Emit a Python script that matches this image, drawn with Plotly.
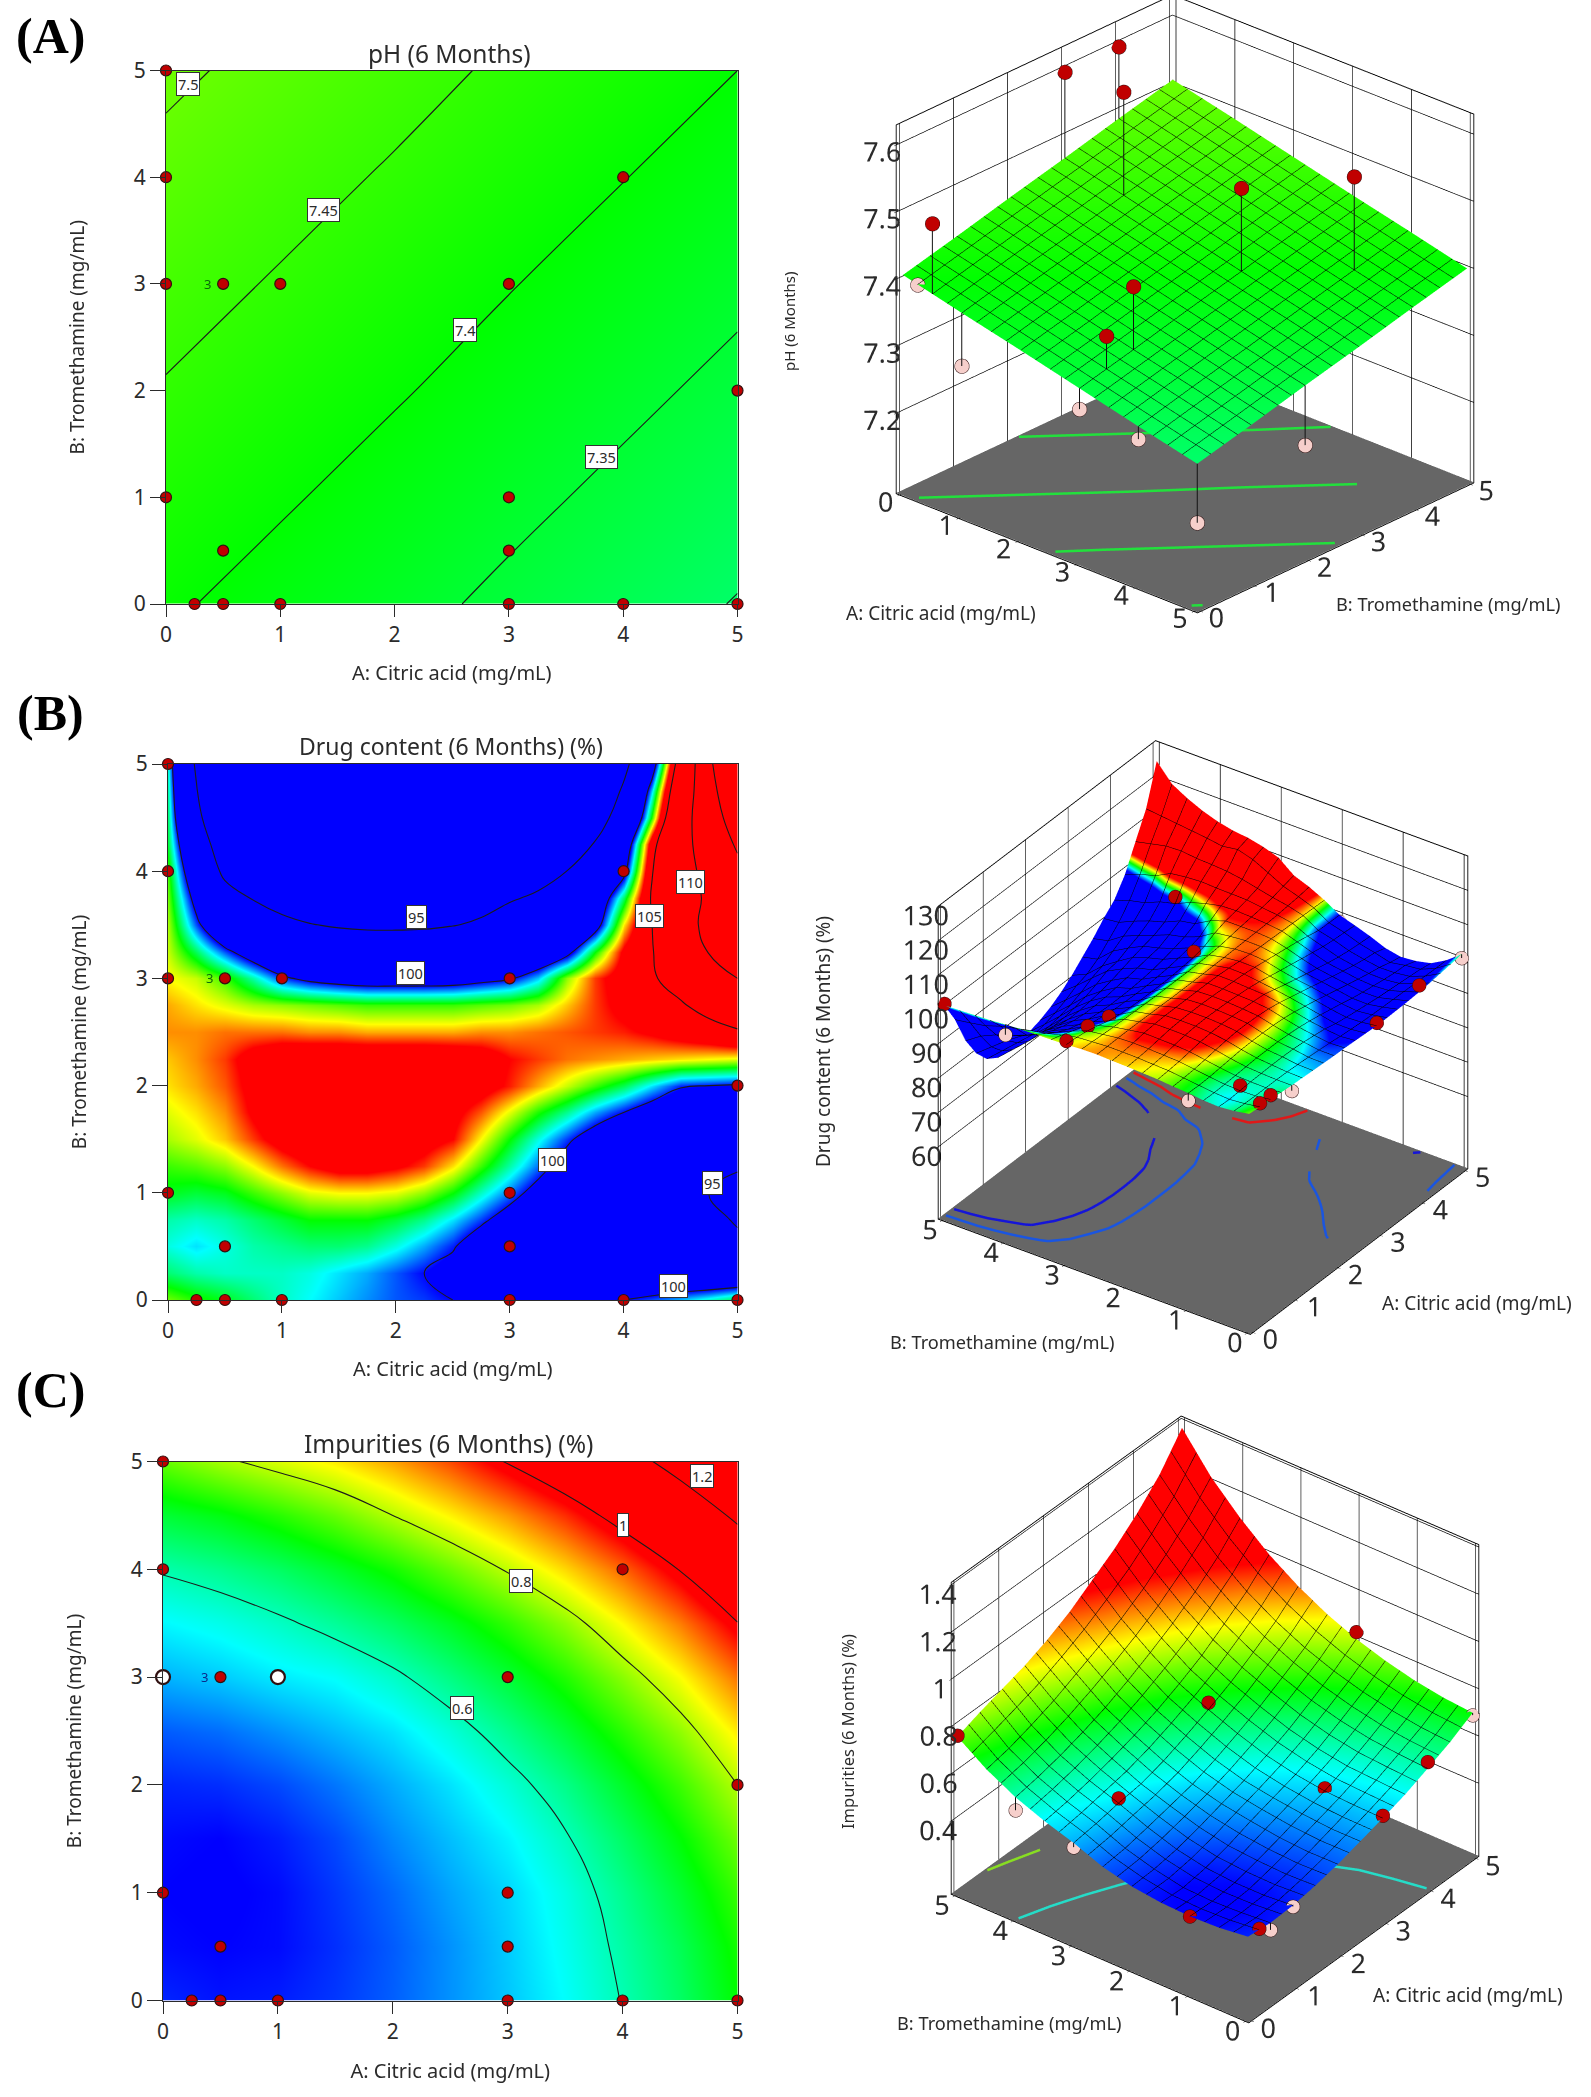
import numpy as np
import plotly.graph_objects as go

W, H = 1591, 2097
FONT = "Noto Sans"
INK = "#2b2b2b"

# Grid axes
A_COARSE = [0, 1, 2, 3, 4, 5]
B_COARSE = [0, 1, 2, 3, 4, 5]
A_MID = [0, .5, 1, 1.5, 2, 2.5, 3, 3.5, 4, 4.5, 5]
B_MID = [0, .5, 1, 1.5, 2, 2.5, 3, 3.5, 4, 4.5, 5]
A_FINE = [i * .25 for i in range(21)]
B_FINE = [i * .25 for i in range(21)]

# pH (6 Months): rows B = 0..5, columns A = 0..5
PH = [
    [7.406, 7.384, 7.363, 7.341, 7.319, 7.298],
    [7.426, 7.405, 7.383, 7.361, 7.340, 7.318],
    [7.447, 7.425, 7.404, 7.382, 7.360, 7.339],
    [7.467, 7.446, 7.424, 7.402, 7.381, 7.359],
    [7.488, 7.466, 7.445, 7.423, 7.401, 7.380],
    [7.508, 7.487, 7.465, 7.443, 7.422, 7.400],
]

# Drug content (6 Months): rows B = 0..5 by .25, columns A = 0..5 by .25
DRUG = [
    [102.2, 101.9, 101.7, 101.4, 101.1, 100.9, 100.7, 100.5, 100.3, 100.2, 100.0, 99.8, 99.6, 99.6, 99.7, 99.8, 100.0, 100.3, 100.7, 101.1, 101.6],
    [101.4, 101.2, 101.1, 101.1, 101.1, 101.0, 100.8, 100.6, 100.3, 100.0, 99.6, 99.3, 99.0, 98.8, 98.7, 98.6, 98.5, 98.4, 98.3, 98.2, 98.2],
    [101.0, 100.8, 101.0, 101.2, 101.3, 101.4, 101.4, 101.3, 101.0, 100.6, 100.1, 99.3, 98.8, 98.3, 97.9, 97.5, 97.2, 96.9, 96.6, 96.3, 95.7],
    [101.2, 101.1, 101.2, 101.4, 101.6, 101.8, 101.8, 101.8, 101.6, 101.3, 100.8, 100.2, 99.5, 98.8, 98.0, 97.4, 96.9, 96.4, 96.0, 95.8, 94.7],
    [101.7, 101.6, 101.7, 102.0, 102.3, 102.6, 102.7, 102.7, 102.6, 102.3, 101.8, 101.1, 100.4, 99.6, 98.8, 98.0, 97.2, 96.5, 95.9, 95.0, 94.3],
    [102.0, 102.1, 102.3, 102.7, 103.2, 103.6, 103.9, 103.9, 103.7, 103.4, 102.8, 102.0, 101.2, 100.4, 99.5, 98.7, 97.9, 97.2, 96.6, 96.2, 95.2],
    [102.4, 102.6, 102.9, 103.4, 103.9, 104.2, 104.4, 104.3, 104.1, 103.9, 103.6, 102.7, 101.8, 101.0, 100.2, 99.4, 98.6, 98.0, 97.5, 97.2, 97.0],
    [102.6, 102.8, 103.1, 103.7, 104.2, 104.5, 104.6, 104.5, 104.4, 104.1, 103.8, 103.3, 102.6, 101.9, 101.3, 100.6, 100.0, 99.4, 99.0, 98.8, 98.5],
    [102.8, 103.0, 103.3, 103.8, 104.3, 104.5, 104.6, 104.6, 104.5, 104.3, 104.1, 103.9, 103.5, 103.0, 102.5, 102.0, 101.5, 100.8, 100.1, 100.0, 99.9],
    [102.9, 103.1, 103.4, 103.9, 104.2, 104.3, 104.3, 104.3, 104.3, 104.3, 104.2, 104.0, 103.6, 103.4, 103.2, 103.1, 103.0, 102.9, 102.8, 102.7, 102.6],
    [103.1, 103.1, 103.2, 103.2, 103.2, 103.1, 103.1, 103.0, 103.0, 103.0, 103.0, 103.1, 103.1, 103.2, 103.3, 103.4, 103.5, 103.7, 104.0, 104.3, 104.8],
    [103.0, 102.8, 102.6, 102.4, 102.3, 102.2, 102.1, 102.0, 102.0, 102.0, 102.0, 102.1, 102.2, 102.4, 102.9, 103.4, 103.8, 104.2, 104.8, 105.7, 106.5],
    [102.7, 102.5, 102.0, 101.2, 100.2, 99.7, 99.4, 99.2, 99.2, 99.2, 99.3, 99.6, 99.9, 100.7, 102.3, 103.4, 104.0, 104.8, 105.8, 108.0, 110.0],
    [102.5, 101.5, 100.3, 99.2, 98.3, 97.7, 97.3, 97.1, 97.0, 97.0, 97.2, 97.5, 98.0, 98.6, 99.5, 101.8, 103.8, 104.9, 106.8, 110.2, 111.5],
    [102.4, 100.3, 98.3, 96.8, 95.8, 95.1, 94.7, 94.5, 94.5, 94.6, 94.9, 95.3, 96.0, 96.8, 97.8, 99.3, 102.8, 105.0, 107.5, 111.5, 112.5],
    [102.2, 99.5, 96.5, 94.8, 93.7, 93.0, 92.6, 92.6, 92.8, 93.2, 93.7, 94.2, 94.8, 95.3, 96.8, 98.5, 101.5, 105.2, 107.8, 110.8, 113.0],
    [102.0, 98.5, 94.2, 92.0, 91.0, 90.0, 89.5, 89.6, 90.0, 90.5, 91.3, 92.3, 93.3, 94.2, 95.0, 96.5, 99.5, 104.9, 108.0, 111.5, 114.0],
    [101.6, 97.5, 92.5, 90.0, 88.0, 86.5, 85.8, 86.0, 86.5, 87.3, 88.5, 90.0, 90.5, 92.0, 93.3, 95.2, 98.4, 104.3, 108.5, 112.0, 115.5],
    [101.4, 96.0, 91.0, 87.0, 84.0, 82.0, 81.5, 81.7, 82.3, 83.2, 84.5, 86.3, 87.5, 89.5, 91.5, 93.5, 96.5, 102.0, 108.3, 112.5, 117.5],
    [101.2, 95.2, 89.0, 83.5, 80.0, 78.0, 77.5, 77.7, 78.3, 79.3, 80.7, 82.5, 83.5, 85.5, 88.5, 91.5, 95.5, 100.8, 107.3, 113.0, 120.0],
    [101.0, 94.5, 86.0, 80.0, 76.0, 74.0, 73.5, 73.8, 74.5, 75.5, 77.0, 79.0, 81.5, 84.5, 87.5, 91.0, 94.0, 99.0, 106.3, 113.5, 125.0],
]

# Impurities (6 Months): rows B = 0..5 by .5, columns A = 0..5 by .5
IMPUR = [
    [.440, .430, .435, .450, .472, .500, .529, .561, .602, .645, .700],
    [.425, .420, .425, .445, .470, .500, .532, .568, .610, .654, .711],
    [.420, .415, .425, .450, .478, .510, .538, .575, .622, .672, .731],
    [.425, .420, .435, .460, .495, .525, .555, .595, .645, .698, .761],
    [.440, .445, .460, .485, .515, .545, .582, .625, .678, .733, .800],
    [.470, .480, .500, .522, .545, .580, .622, .668, .722, .779, .851],
    [.518, .531, .549, .562, .590, .628, .670, .717, .775, .838, .917],
    [.557, .571, .591, .616, .646, .682, .726, .777, .842, .911, .998],
    [.605, .622, .645, .675, .710, .755, .805, .860, .925, 1.003, 1.100],
    [.670, .690, .720, .755, .800, .845, .895, .955, 1.030, 1.115, 1.220],
    [.755, .790, .820, .850, .890, .940, 1.005, 1.070, 1.150, 1.245, 1.375],
]

# Design points
PT_A = [0, 0, 0, .5, 1, 3, 4, 5, 3, 3, .5, 0, .25, .5, 1, 3, 4, 5]
PT_B = [5, 4, 3, 3, 3, 3, 4, 2, 1, .5, .5, 1, 0, 0, 0, 0, 0, 0]
PT_PH = [7.49, 7.595, 7.595, 7.42, 7.60, 7.526, 7.54, 7.25, 7.455, 7.40, 7.39, 7.40, 7.40, 7.50, 7.305, 7.31, 7.30, 7.21]
PT_DRUG = [101.5, 99, 103.8, 103.4, 101.5, 101.5, 101.5, 98, 98, 96.5, 102.5, 99.5, 103, 103, 99.5, 100.5, 102, 100.5]
PT_IMP = [.76, .55, .50, .47, .57, .70, .90, .83, .55, .51, .40, .42, .44, .40, .43, .54, .63, .69]

# Contour settings
RAINBOW = [[0, "#0000ff"], [.25, "#00ffff"], [.5, "#00ff00"], [.75, "#ffff00"], [1, "#ff0000"]]
AXIS_TICKS = [0, 1, 2, 3, 4, 5]
PH_LEVELS = [7.3, 7.35, 7.4, 7.45, 7.5]
DRUG_LEVELS = [95, 100, 105, 110, 115]
IMP_LEVELS = [.6, .8, 1.0, 1.2]
PH_LEVEL_COLORS = ["#22e03c"] * 5
DRUG_LEVEL_COLORS = ["#1515d8", "#1a55e0", "#e01818", "#e01818", "#e01818"]
IMP_LEVEL_COLORS = ["#25dcc8", "#88dd22", "#f08a10", "#f03010"]
PH_LABELS = [("7.5", .19, 4.87), ("7.45", 1.375, 3.69), ("7.4", 2.62, 2.57), ("7.35", 3.81, 1.38)]
DRUG_LABELS = [("95", 2.18, 3.57), ("100", 2.13, 3.05), ("110", 4.59, 3.9), ("105", 4.23, 3.58),
               ("100", 3.38, 1.31), ("95", 4.78, 1.09), ("100", 4.44, .135)]
IMP_LABELS = [("1.2", 4.69, 4.87), ("1", 4.0, 4.41), ("0.8", 3.12, 3.89), ("0.6", 2.6, 2.71)]
PH_TICKS = [7.2, 7.3, 7.4, 7.5, 7.6]
DRUG_TICKS = [60, 70, 80, 90, 100, 110, 120, 130]
IMP_TICKS = [.4, .6, .8, 1, 1.2, 1.4]
X_TITLE = "A: Citric acid (mg/mL)"
Y_TITLE = "B: Tromethamine (mg/mL)"
BOX_RANGE = [-.06, 5.06]


def surface_at(xs, ys, Z, a, b):
    xs, ys, Z = np.asarray(xs, float), np.asarray(ys, float), np.asarray(Z, float)
    col = np.array([np.interp(a, xs, row) for row in Z])
    return float(np.interp(b, ys, col))


def contour_paths(xs, ys, Z, level):
    """Marching squares: returns x, y lists separated by None."""
    Z = np.asarray(Z, float)
    X, Y = [], []
    for j in range(len(ys) - 1):
        for i in range(len(xs) - 1):
            corners = [(xs[i], ys[j], Z[j, i]), (xs[i + 1], ys[j], Z[j, i + 1]),
                       (xs[i + 1], ys[j + 1], Z[j + 1, i + 1]), (xs[i], ys[j + 1], Z[j + 1, i])]
            pts = []
            for k in range(4):
                x0, y0, z0 = corners[k]
                x1, y1, z1 = corners[(k + 1) % 4]
                if (z0 - level) * (z1 - level) < 0:
                    t = (level - z0) / (z1 - z0)
                    pts.append((x0 + t * (x1 - x0), y0 + t * (y1 - y0)))
            for m in range(0, len(pts) - 1, 2):
                X += [pts[m][0], pts[m + 1][0], None]
                Y += [pts[m][1], pts[m + 1][1], None]
    return X, Y


fig = go.Figure()


def px_x(x):
    return x / W


def px_y(y):
    return 1 - y / H


def note(text, x, y, size, **kw):
    fig.add_annotation(text=text, x=px_x(x), y=px_y(y), xref="paper", yref="paper", showarrow=False,
                       font=dict(family=kw.pop("family", FONT), size=size, color=kw.pop("color", INK)),
                       xanchor="center", yanchor="middle", **kw)


def contour_panel(idx, xs, ys, Z, cmin, cmax, levels, labels, box, title, title_xy, title_size, tag, tag_xy,
                  white=(), three_color="#0a6a0a", x_standoff=20):
    sfx = "" if idx == 1 else str(idx)
    x0, x1, y0, y1 = box
    fig.update_layout({
        f"xaxis{sfx}": dict(domain=[px_x(x0), px_x(x1)], range=[0, 5], tickvals=AXIS_TICKS, ticks="outside",
                            ticklen=12, tickcolor=INK, linecolor=INK, showline=True, mirror=True, showgrid=False,
                            zeroline=False, tickfont=dict(family=FONT, size=21, color=INK), anchor=f"y{sfx}",
                            title=dict(text=X_TITLE, font=dict(family=FONT, size=20, color=INK), standoff=x_standoff)),
        f"yaxis{sfx}": dict(domain=[px_y(y1), px_y(y0)], range=[0, 5], tickvals=AXIS_TICKS, ticks="outside",
                            ticklen=15, tickcolor=INK, linecolor=INK, showline=True, mirror=True, showgrid=False,
                            zeroline=False, tickfont=dict(family=FONT, size=21, color=INK), anchor=f"x{sfx}",
                            title=dict(text=Y_TITLE, font=dict(family=FONT, size=19, color=INK), standoff=44)),
    })
    xa, ya = f"x{sfx}", f"y{sfx}"
    fig.add_trace(go.Contour(x=xs, y=ys, z=Z, zauto=False, zmin=cmin, zmax=cmax, colorscale=RAINBOW,
                             showscale=False, hoverinfo="skip", xaxis=xa, yaxis=ya,
                             autocontour=False,
                             contours=dict(coloring="heatmap", start=levels[0], end=levels[-1],
                                           size=levels[1] - levels[0]),
                             line=dict(color="#1c1c1c", width=1.1, smoothing=1.3)))
    colors = ["#ffffff" if (a, b) in white else "#c00000" for a, b in zip(PT_A, PT_B)]
    sizes = [14 if (a, b) in white else 11 for a, b in zip(PT_A, PT_B)]
    widths = [2.2 if (a, b) in white else 1.2 for a, b in zip(PT_A, PT_B)]
    fig.add_trace(go.Scatter(x=PT_A, y=PT_B, mode="markers", cliponaxis=False, xaxis=xa, yaxis=ya, hoverinfo="skip",
                             marker=dict(size=sizes, color=colors, opacity=1,
                                         line=dict(color="#301010", width=widths))))
    for text, a, b in labels:
        fig.add_annotation(text=text, x=a, y=b, xref=xa, yref=ya, showarrow=False, bgcolor="white",
                           bordercolor="#333333", borderwidth=1, borderpad=1,
                           font=dict(family=FONT, size=14.5, color=INK))
    fig.add_annotation(text="3", x=.36, y=3, xref=xa, yref=ya, showarrow=False,
                       font=dict(family=FONT, size=13, color=three_color))
    note(title, title_xy[0], title_xy[1], title_size)
    note(tag, tag_xy[0], tag_xy[1], 50, family="Liberation Serif", color="#000000")


def surface_panel(idx, xs, ys, Z, cmin, cmax, pts_z, z_range, z_ticks, levels, level_colors, domain_px,
                  unit_eye, zratio, scale, dz, dot, tick_size=18):
    sfx = "" if idx == 1 else str(idx)
    scene = f"scene{sfx}"
    zlo, zhi = z_range
    span = zhi - zlo
    floor = zlo + .002 * span
    fig.add_trace(go.Surface(x=BOX_RANGE, y=BOX_RANGE, z=[[floor, floor], [floor, floor]], scene=scene,
                             colorscale=[[0, "#666666"], [1, "#666666"]], showscale=False, hoverinfo="skip",
                             lighting=dict(ambient=1, diffuse=0, specular=0, fresnel=0)))
    for lev, col in zip(levels, level_colors):
        X, Y = contour_paths(xs, ys, Z, lev)
        fig.add_trace(go.Scatter3d(x=X, y=Y, z=[None if v is None else floor + .004 * span for v in X], scene=scene,
                                   mode="lines", line=dict(color=col, width=5), hoverinfo="skip", showlegend=False))
    grid_line = dict(show=True, start=0, end=5, size=.25, color="#000000", width=2.5, highlight=False)
    fig.add_trace(go.Surface(x=xs, y=ys, z=Z, scene=scene, cmin=cmin, cmax=cmax, colorscale=RAINBOW, showscale=False,
                             hoverinfo="skip", lighting=dict(ambient=1, diffuse=0, specular=0, fresnel=0),
                             contours=dict(x=grid_line, y=grid_line, z=dict(highlight=False))))
    drop_x, drop_y, drop_z, col = [], [], [], []
    for a, b, v in zip(PT_A, PT_B, pts_z):
        s = surface_at(xs, ys, Z, a, b)
        drop_x += [a, a, None]
        drop_y += [b, b, None]
        drop_z += [v, s, None]
        col.append("#c00000" if v >= s else "#f6cfcb")
    fig.add_trace(go.Scatter3d(x=drop_x, y=drop_y, z=drop_z, scene=scene, mode="lines", hoverinfo="skip",
                               line=dict(color="#111111", width=2), showlegend=False))
    fig.add_trace(go.Scatter3d(x=PT_A, y=PT_B, z=pts_z, scene=scene, mode="markers", hoverinfo="skip", showlegend=False,
                               marker=dict(size=dot, color=col, line=dict(color="#301010", width=1))))

    def axis(**kw):
        d = dict(showbackground=True, backgroundcolor="white", showgrid=True, gridcolor="#000000", gridwidth=1.5,
                 showline=True, linecolor="#000000", linewidth=2, mirror=True, zeroline=False, ticks="outside",
                 ticklen=3, tickangle=0, tickcolor="#111111", title=dict(text=""), showspikes=False,
                 tickfont=dict(family=FONT, size=tick_size, color=INK))
        d.update(kw)
        return d
    x0, x1, y0, y1 = domain_px
    fig.update_layout({scene: dict(
        domain=dict(x=[px_x(x0), px_x(x1)], y=[px_y(y1), px_y(y0)]),
        xaxis=axis(range=BOX_RANGE, tickvals=AXIS_TICKS),
        yaxis=axis(range=BOX_RANGE, tickvals=AXIS_TICKS),
        zaxis=axis(range=[zlo, zhi], tickvals=z_ticks, ticktext=[f"{v:g}" for v in z_ticks], showbackground=False),
        aspectmode="manual", aspectratio=dict(x=scale, y=scale, z=zratio * scale),
        camera=dict(projection=dict(type="orthographic"), up=dict(x=0, y=0, z=1),
                    center=dict(x=0, y=0, z=dz),
                    eye=dict(x=unit_eye[0] * 1.6, y=unit_eye[1] * 1.6, z=unit_eye[2] * 1.6 + dz)),
        bgcolor="rgba(0,0,0,0)")})


# ---- Panel A ----
contour_panel(1, A_COARSE, B_COARSE, PH, 6.9, 7.9, PH_LEVELS, PH_LABELS, (166, 737.5, 70.5, 604), "pH (6 Months)",
              (449, 54), 24.5, "<b>(A)</b>", (50, 36), x_standoff=18)
surface_panel(1, A_COARSE, B_COARSE, PH, 6.9, 7.9, PT_PH, (7.08, 7.63), PH_TICKS,
              PH_LEVELS, PH_LEVEL_COLORS, (790, 1580, 0, 700), (.608, -.663, .43), 1.0, 1.168, -.146, 8.5)
note(X_TITLE, 941, 613, 19)
note(Y_TITLE, 1448, 604, 18.2)
note("pH (6 Months)", 789, 321, 15, textangle=-90)

# ---- Panel B ----
contour_panel(2, A_FINE, B_FINE, DRUG, 100, 103.6, DRUG_LEVELS, DRUG_LABELS, (168, 737.5, 764, 1300),
              "Drug content (6 Months) (%)", (451, 746), 23, "<b>(B)</b>", (50, 713), x_standoff=18)
surface_panel(2, A_FINE, B_FINE, DRUG, 100, 103.6, PT_DRUG, (39, 130), DRUG_TICKS,
              DRUG_LEVELS, DRUG_LEVEL_COLORS, (815, 1591, 700, 1400), (-.695, -.484, .53), .97, 1.087, -.042, 8)
note(X_TITLE, 1477, 1303, 19)
note(Y_TITLE, 1002, 1342, 18.2)
note("Drug content (6 Months) (%)", 823, 1042, 19, textangle=-90)

# ---- Panel C ----
contour_panel(3, A_MID, B_MID, IMPUR, .42, .98, IMP_LEVELS, IMP_LABELS, (163, 737.5, 1461.5, 2000.5),
              "Impurities (6 Months) (%)", (448, 1443), 24.5, "<b>(C)</b>", (50, 1390),
              white={(0, 3), (1, 3)}, three_color="#0a2a8a", x_standoff=20)
surface_panel(3, A_MID, B_MID, IMPUR, .42, .98, PT_IMP, (.09, 1.41), IMP_TICKS,
              IMP_LEVELS, IMP_LEVEL_COLORS, (839, 1591, 1405, 2097), (-.656, -.507, .559), 1.0, 1.087, -.11, 8)
note(X_TITLE, 1468, 1995, 19)
note(Y_TITLE, 1009, 2023, 18.2)
note("Impurities (6 Months) (%)", 847, 1732, 16.5, textangle=-90)

fig.update_layout(width=W, height=H, margin=dict(l=0, r=0, t=0, b=0, autoexpand=False), paper_bgcolor="white",
                  plot_bgcolor="white", showlegend=False, font=dict(family=FONT, color=INK))
fig.write_html("out.html", config={"displayModeBar": False}, post_script="document.body.style.margin='0';")
